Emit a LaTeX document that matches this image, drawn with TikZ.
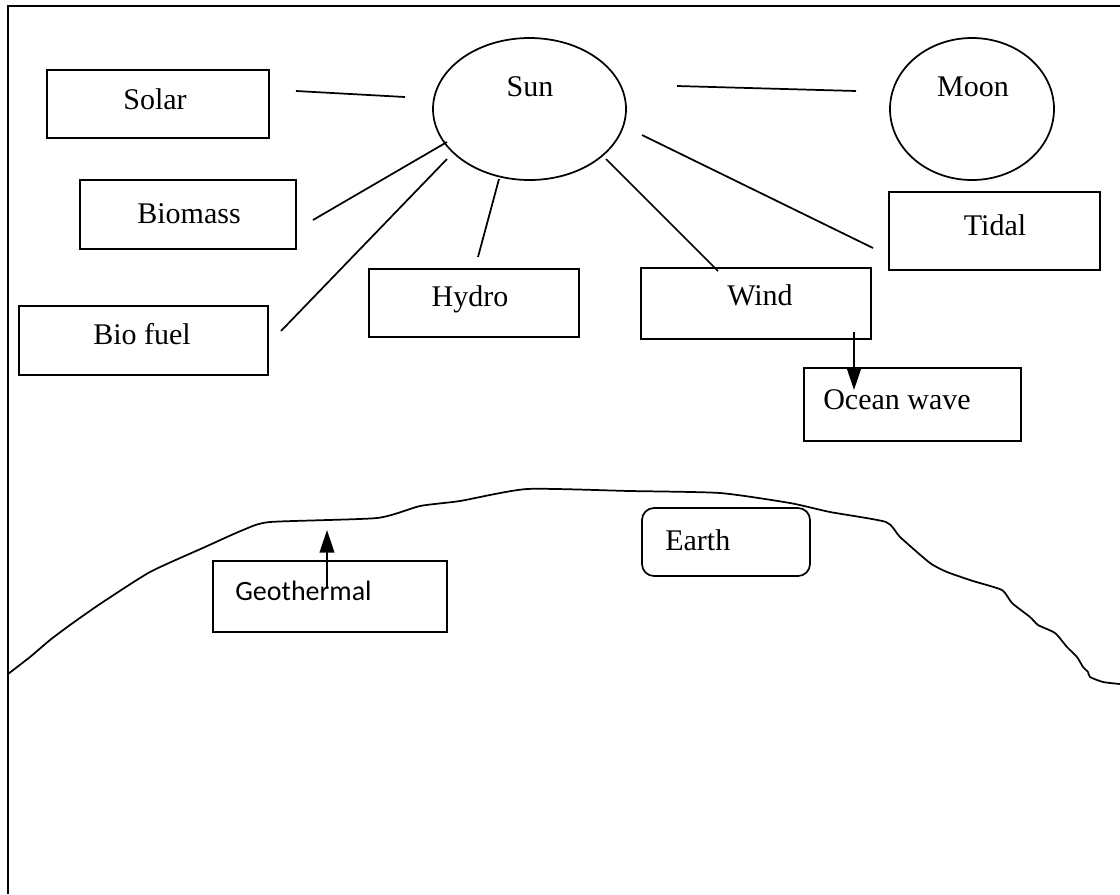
\documentclass[tikz,border=0pt]{standalone}
\usepackage{fontspec}
\setmainfont{Liberation Serif}
\newfontfamily\calib{Carlito}
\usetikzlibrary{fit,arrows.meta}
\begin{document}
\begin{tikzpicture}[x=0.75pt,y=-0.75pt,
  box/.style={draw,line width=1.3pt,inner sep=0pt},
  rbox/.style={draw,line width=1.3pt,inner sep=0pt,rounded corners=9pt},
  blob/.style={draw,line width=1.3pt,ellipse,inner sep=0pt},
  txt/.style={anchor=base,inner sep=0pt,font=\fontsize{22.5}{27}\selectfont},
  gtxt/.style={anchor=base west,inner sep=0pt,font=\calib\fontsize{21}{25}\selectfont},
  conn/.style={line width=1.3pt},
  arr/.style={line width=1.6pt,-{Triangle[length=17pt,width=11pt]}}]
\useasboundingbox (0,0) rectangle (1120,894);
% frame
\draw[line width=1.5pt] (8,894) -- (8,6) -- (1120,6);
% sun and moon
\draw[line width=1.3pt] (529.5,109) ellipse [x radius=96.5*0.75pt, y radius=71*0.75pt];
\coordinate (sun) at (529.5,109);
\node[txt] (sunT) at (530,96) {Sun};
\draw[line width=1.3pt] (972,109) ellipse [x radius=82*0.75pt, y radius=71*0.75pt];
\coordinate (moon) at (972,109);
\node[txt] (moonT) at (973,96) {Moon};
% boxes
\node[box,fit={(47,70) (269,138)}] (solar) {};
\node[txt] (solarT) at (155,109) {Solar};
\node[box,fit={(80,180) (296,249)}] (biomass) {};
\node[txt] (biomassT) at (189,223) {Biomass};
\node[box,fit={(19,306) (268,375)}] (biofuel) {};
\node[txt] (biofuelT) at (142,344) {Bio fuel};
\node[box,fit={(369,269) (579,337)}] (hydro) {};
\node[txt] (hydroT) at (470,306) {Hydro};
\node[box,fit={(641,268) (871,339)}] (wind) {};
\node[txt] (windT) at (760,305) {Wind};
\node[box,fit={(889,192) (1100,270)}] (tidal) {};
\node[txt] (tidalT) at (995,235) {Tidal};
\node[box,fit={(804,368) (1021,441)}] (ocean) {};
\node[txt] (oceanT) at (897,409) {Ocean wave};
\node[box,fit={(213,561) (447,632)}] (geo) {};
\node[gtxt] (geoT) at (235,600) {Geothermal};
\node[rbox,fit={(642,508) (810,576)}] (earth) {};
\node[txt,anchor=base west] (earthT) at (665,550) {Earth};
% connector end points
\coordinate (c1a) at (296,91);  \coordinate (c1b) at (405,97);
\coordinate (c2a) at (677,86);  \coordinate (c2b) at (856,91);
\coordinate (c3a) at (313,220); \coordinate (c3b) at (447,142);
\coordinate (c4a) at (281,331); \coordinate (c4b) at (447,159);
\coordinate (c5a) at (478,257); \coordinate (c5b) at (499,179);
\coordinate (c6a) at (718,271); \coordinate (c6b) at (606,159);
\coordinate (c7a) at (873,248); \coordinate (c7b) at (642,135);
\coordinate (w1) at (854,332);  \coordinate (w2) at (854,390);
\coordinate (g1) at (327,588);  \coordinate (g2) at (327,530);
\draw[conn] (c1a) -- (c1b);
\draw[conn] (c2a) -- (c2b);
\draw[conn] (c3a) -- (c3b);
\draw[conn] (c4a) -- (c4b);
\draw[conn] (c5a) -- (c5b);
\draw[conn] (c6a) -- (c6b);
\draw[conn] (c7a) -- (c7b);
\draw[arr] (w1) -- (w2);
\draw[arr] (g1) -- (g2);
% earth outline
\draw[line width=1.3pt,line join=round] plot[smooth,tension=0.35] coordinates {
 (8,674) (30,657) (50,640) (70,625) (100,604) (150,572) (205,547) (243,530)
 (270,522) (377,518) (420,506) (460,501) (527,489) (630,491) (720,493) (790,503)
 (830,512) (886,522) (900,537) (930,563) (947,572) (973,581) (1002,590)
 (1012,603) (1030,617) (1038,625) (1055,633) (1067,647) (1077,657) (1083,667)
 (1088,672) (1090,677) (1103,682) (1120,684)};
\end{tikzpicture}
\end{document}
